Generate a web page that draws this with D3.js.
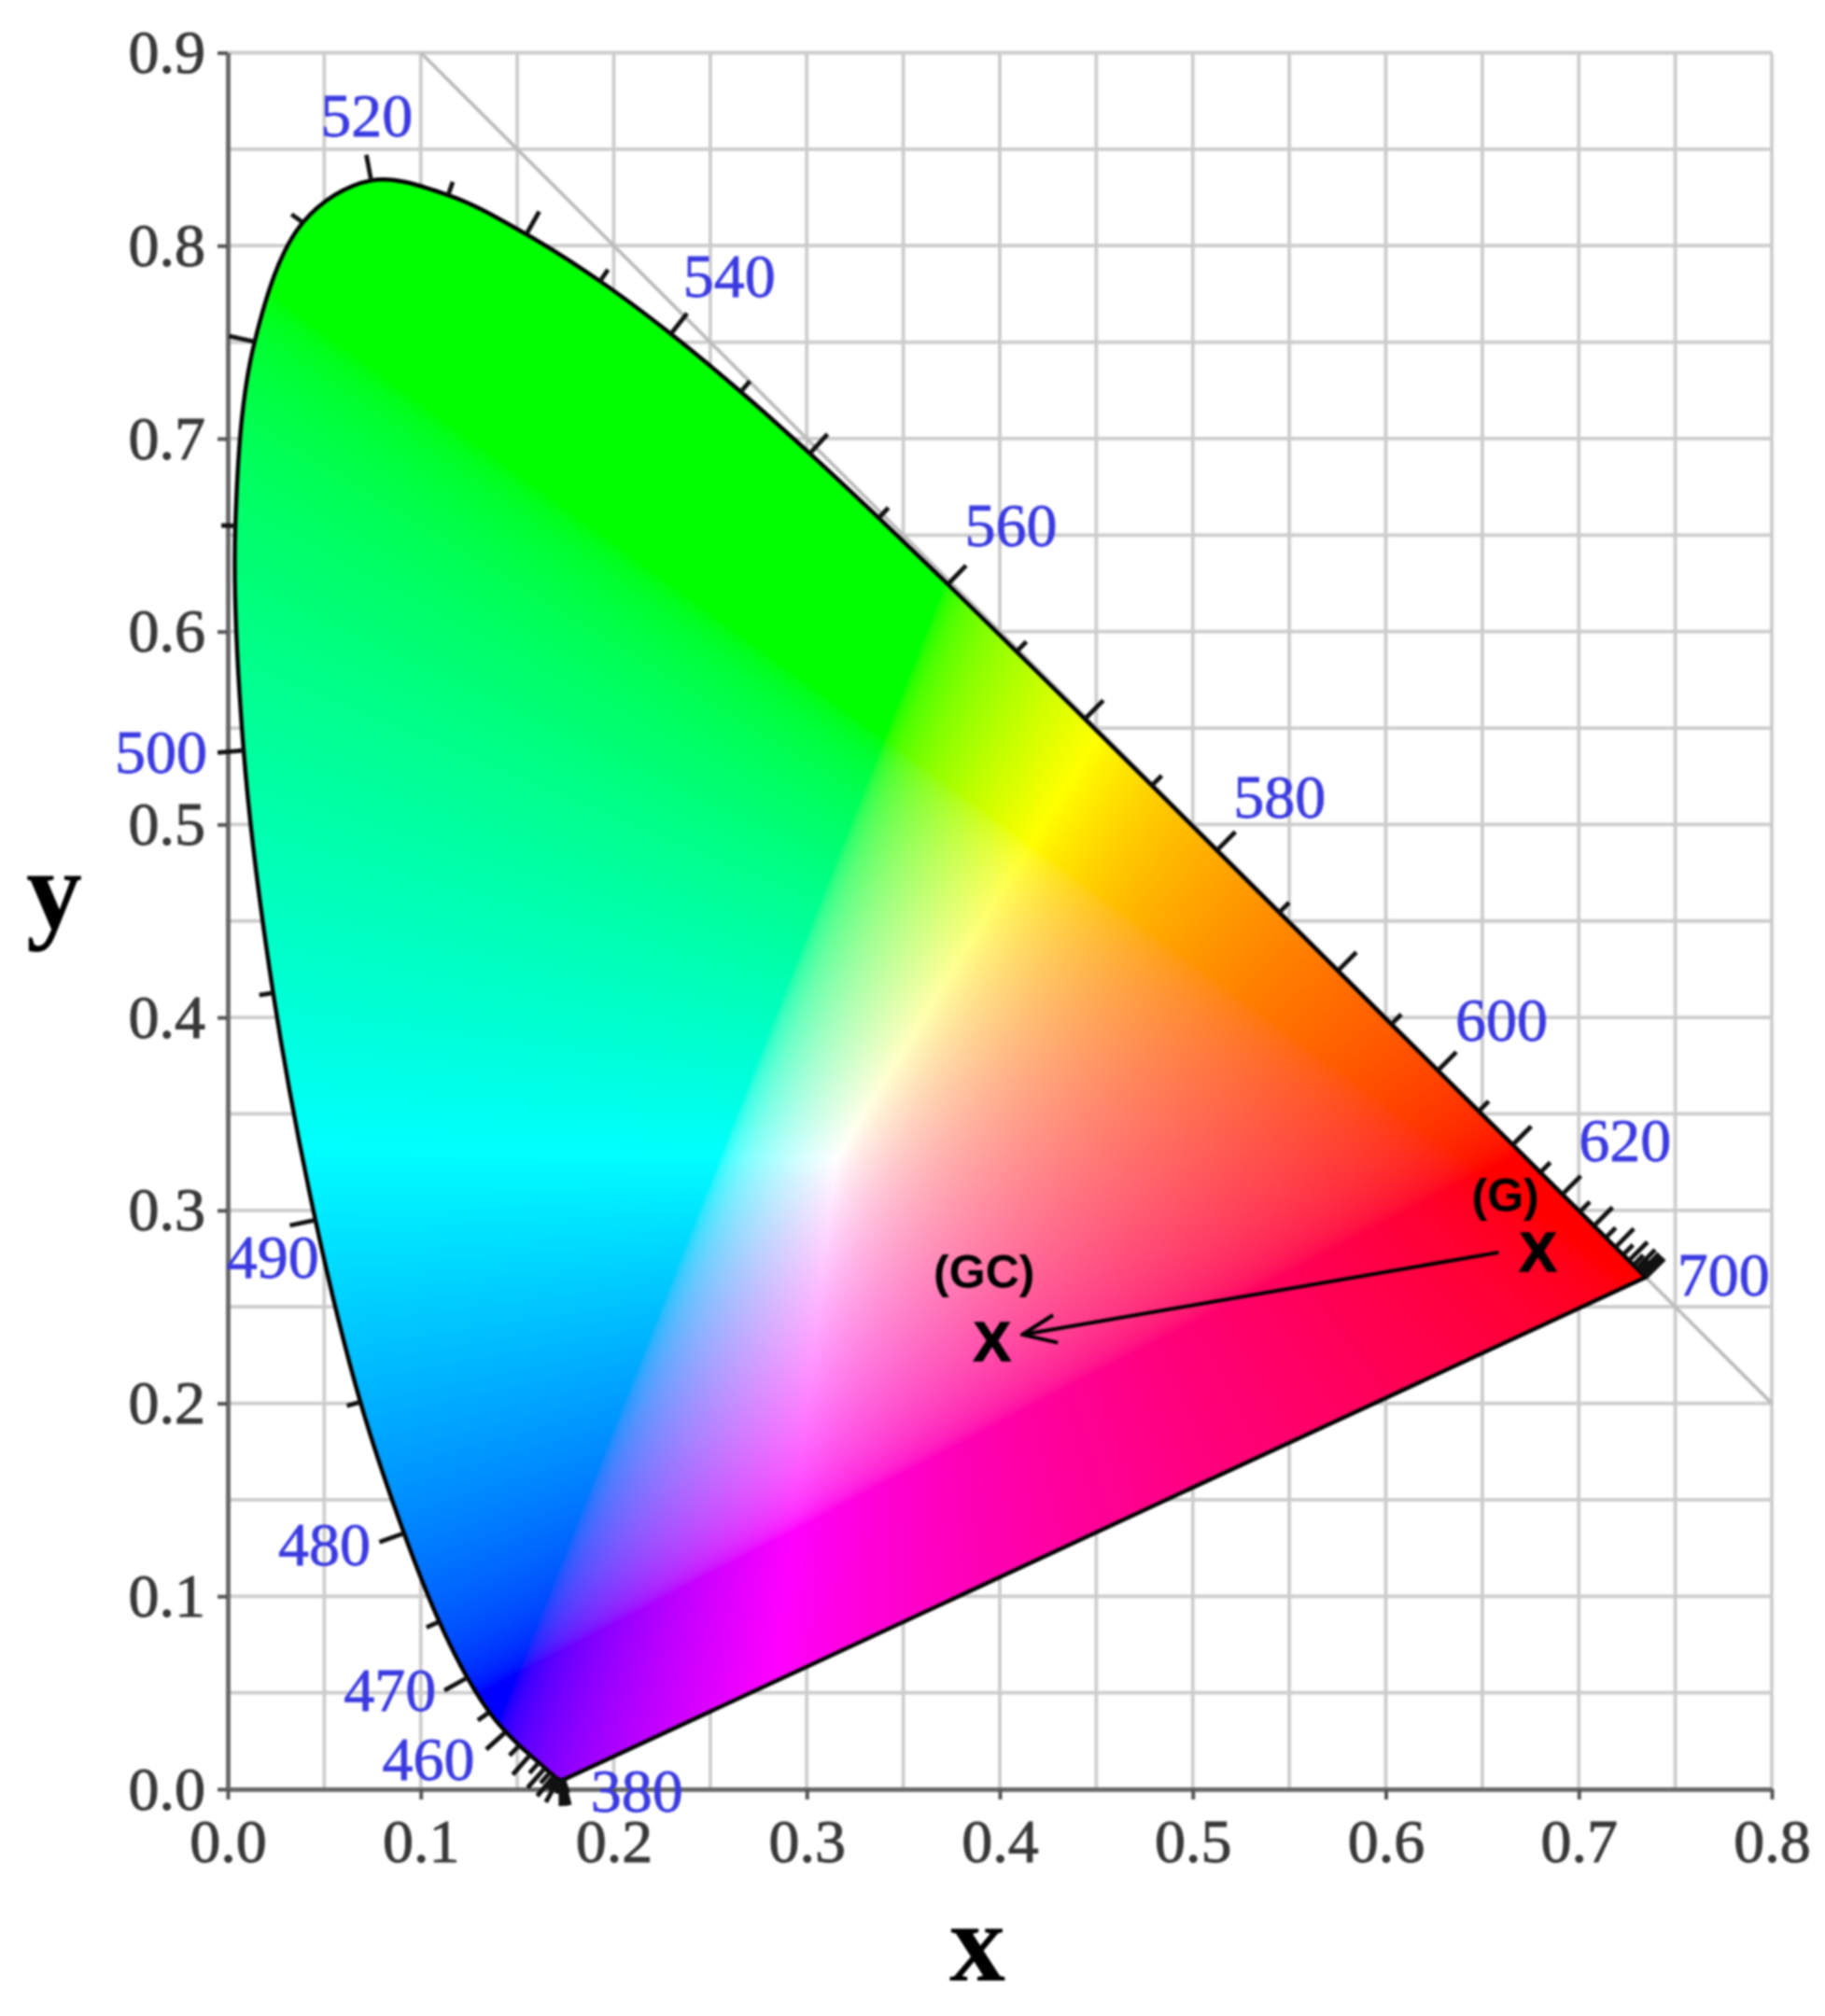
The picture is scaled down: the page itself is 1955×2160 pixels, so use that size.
<!DOCTYPE html>
<html><head><meta charset="utf-8">
<script src="https://cdn.jsdelivr.net/npm/d3@7"></script>
<style>html,body{margin:0;background:#fff}svg{display:block;filter:blur(1.2px)}</style>
</head><body><svg id="c" width="1955" height="2160"></svg>
<script>
const wavelengths=[380,385,390,395,400,405,410,415,420,425,430,435,440,445,450,455,460,465,470,475,480,485,490,495,500,505,510,515,520,525,530,535,540,545,550,555,560,565,570,575,580,585,590,595,600,605,610,615,620,625,630,635,640,645,650,655,660,665,670,675,680,685,690,695,700];
const locusX=[.1741,.1740,.1738,.1736,.1733,.1730,.1726,.1721,.1714,.1703,.1689,.1669,.1644,.1611,.1566,.1510,.1440,.1355,.1241,.1096,.0913,.0687,.0454,.0235,.0082,.0039,.0139,.0389,.0743,.1142,.1547,.1929,.2296,.2658,.3016,.3373,.3731,.4087,.4441,.4788,.5125,.5448,.5752,.6029,.6270,.6482,.6658,.6801,.6915,.7006,.7079,.7140,.7190,.7230,.7260,.7283,.7300,.7311,.7320,.7327,.7334,.7340,.7344,.7346,.7347];
const locusY=[.0050,.0050,.0049,.0049,.0048,.0048,.0048,.0048,.0051,.0058,.0069,.0086,.0109,.0138,.0177,.0227,.0297,.0399,.0578,.0868,.1327,.2007,.2950,.4127,.5384,.6548,.7502,.8120,.8338,.8262,.8059,.7816,.7543,.7243,.6923,.6589,.6245,.5896,.5547,.5202,.4866,.4544,.4242,.3965,.3725,.3514,.3340,.3197,.3083,.2993,.2920,.2859,.2809,.2770,.2740,.2717,.2700,.2689,.2680,.2673,.2666,.2660,.2656,.2654,.2653];
const labelNames=["520","540","560","580","600","620","700","500","490","480","470","460","380"];
const labelX=[.072,.2598,.4058,.545,.660,.724,.775,-.0346,.0233,.050,.084,.104,.212];
const labelY=[.867,.784,.6547,.514,.3985,.336,.2665,.5373,.2755,.1265,.0513,.0155,-.0013];
const xTicks=[0,.1,.2,.3,.4,.5,.6,.7,.8];
const yTicks=[0,.1,.2,.3,.4,.5,.6,.7,.8,.9];
const gridX=d3.range(0,17).map(i=>i/20);
const gridY=d3.range(0,19).map(i=>i/20);
const pointNames=["(G)","(GC)"];
const pointX=[.6788,.396];
const pointY=[.2787,.2327];
const pointLabelX=[.662,.3919];
const pointLabelY=[.3075,.268];
const arrowX=[.6585,.4117];
const arrowY=[.2782,.2356];
const primaries=[[.65,.32],[.34,.545],[.15,.06]];
const whitePoint=[.315,.327];

const x=d3.scaleLinear().domain([0,.8]).range([244,1898]);
const y=d3.scaleLinear().domain([0,.9]).range([1917,56.5]);
const svg=d3.select("#c");

function XYZ(p){return [p[0]/p[1],1,(1-p[0]-p[1])/p[1]];}
function inv3(m){const[a,b,c]=m[0],[d,e,f]=m[1],[g,h,i]=m[2];const A=e*i-f*h,B=f*g-d*i,C=d*h-e*g,det=a*A+b*B+c*C;
 return [[A/det,(c*h-b*i)/det,(b*f-c*e)/det],[B/det,(a*i-c*g)/det,(c*d-a*f)/det],[C/det,(b*g-a*h)/det,(a*e-b*d)/det]];}
const P=primaries.map(XYZ);
const PM=[[P[0][0],P[1][0],P[2][0]],[P[0][1],P[1][1],P[2][1]],[P[0][2],P[1][2],P[2][2]]];
const wxyz=XYZ(whitePoint);
const pi=inv3(PM);
const S=pi.map(r=>r[0]*wxyz[0]+r[1]*wxyz[1]+r[2]*wxyz[2]);
const inv=inv3(PM.map(r=>r.map((v,j)=>v*S[j])));
const gam=v=>v<=.0031308?12.92*v:1.055*Math.pow(v,1/2.4)-.055;

const x0=Math.floor(x(0)),x1=Math.ceil(x(.8)),y0=Math.floor(y(.9)),y1=Math.ceil(y(0));
const cv=document.createElement("canvas");cv.width=x1-x0;cv.height=y1-y0;
const ctx=cv.getContext("2d");const im=ctx.createImageData(cv.width,cv.height);
for(let j=0;j<cv.height;j++)for(let i=0;i<cv.width;i++){
 const cx=x.invert(x0+i),cy=Math.max(.001,y.invert(y0+j));
 const v=XYZ([cx,cy]);
 let c=inv.map(r=>Math.max(0,r[0]*v[0]+r[1]*v[1]+r[2]*v[2]));
 const m=Math.max(c[0],c[1],c[2])||1;
 const k=(j*cv.width+i)*4;
 im.data[k]=255*gam(c[0]/m);im.data[k+1]=255*gam(c[1]/m);im.data[k+2]=255*gam(c[2]/m);im.data[k+3]=255;
}
ctx.putImageData(im,0,0);

const locus=wavelengths.map((w,i)=>({w,x:locusX[i],y:locusY[i],i}));
const line=d3.line().x(d=>x(d.x)).y(d=>y(d.y)).curve(d3.curveCatmullRom.alpha(.5));
const gridColor="#cccccc";
svg.append("g").selectAll("line").data(gridX).join("line").attr("x1",d=>x(d)).attr("x2",d=>x(d)).attr("y1",y(0)).attr("y2",y(.9)).attr("stroke",gridColor).attr("stroke-width",3.8);
svg.append("g").selectAll("line").data(gridY).join("line").attr("y1",d=>y(d)).attr("y2",d=>y(d)).attr("x1",x(0)).attr("x2",x(.8)).attr("stroke",gridColor).attr("stroke-width",3.8);
svg.append("line").attr("x1",x(.1)).attr("y1",y(.9)).attr("x2",x(.8)).attr("y2",y(.2)).attr("stroke","#bcbcbc").attr("stroke-width",3.8);

function styleAxis(g){g.select(".domain").attr("stroke","#6a6a6a").attr("stroke-width",5);
 g.selectAll(".tick line").attr("stroke","#555").attr("stroke-width",4);
 g.selectAll(".tick text").attr("font-family","'Liberation Serif'").attr("font-size",66).attr("fill","#383838").attr("stroke","#383838").attr("stroke-width",1);}
svg.append("g").attr("transform",`translate(${x(0)},0)`).call(d3.axisLeft(y).tickValues(yTicks).tickFormat(d3.format(".1f")).tickSize(11).tickSizeOuter(0).tickPadding(13)).call(styleAxis);
svg.append("g").attr("transform",`translate(0,${y(0)})`).call(d3.axisBottom(x).tickValues(xTicks).tickFormat(d3.format(".1f")).tickSize(11).tickSizeOuter(0).tickPadding(20)).call(styleAxis);

const defs=svg.append("defs");
const closed=line(locus)+"Z";
defs.append("clipPath").attr("id","lc").append("path").attr("d",closed);
svg.append("image").attr("x",x0).attr("y",y0).attr("width",cv.width).attr("height",cv.height).attr("href",cv.toDataURL()).attr("clip-path","url(#lc)");
svg.append("path").attr("d",closed).attr("fill","none").attr("stroke","#000").attr("stroke-width",4.4).attr("stroke-linejoin","round");

svg.append("g").selectAll("line").data(locus).join("line").each(function(d){
 const a=locus[Math.max(0,d.i-1)],b=locus[Math.min(locus.length-1,d.i+1)];
 const tx=x(b.x)-x(a.x),ty=y(b.y)-y(a.y),n=Math.hypot(tx,ty)||1;
 const nx=ty/n,ny=-tx/n,L=d.w%10===0?28:15;
 d3.select(this).attr("x1",x(d.x)).attr("y1",y(d.y)).attr("x2",x(d.x)+nx*L).attr("y2",y(d.y)+ny*L);
}).attr("stroke","#111").attr("stroke-width",4.8);

svg.append("g").selectAll("text").data(labelNames).join("text").attr("x",(d,i)=>x(labelX[i])).attr("y",(d,i)=>y(labelY[i])).attr("dy",".33em").attr("text-anchor","middle").attr("font-family","'Liberation Serif'").attr("font-size",66).attr("fill","#3a3ae0").attr("stroke","#3a3ae0").attr("stroke-width",.8).text(d=>d);

svg.append("text").attr("x",58).attr("y",994).attr("text-anchor","middle").attr("font-family","'Liberation Serif'").attr("font-weight","bold").attr("font-size",120).attr("fill","#000").text("y");
svg.append("text").attr("x",1047).attr("y",2122).attr("text-anchor","middle").attr("font-family","'Liberation Serif'").attr("font-weight","bold").attr("font-size",120).attr("fill","#000").text("x");

defs.append("marker").attr("id","ah").attr("markerUnits","userSpaceOnUse").attr("markerWidth",50).attr("markerHeight",40).attr("refX",48).attr("refY",20).attr("orient","auto").attr("viewBox","0 0 50 40").append("path").attr("d","M12,5L48,20L12,35").attr("fill","none").attr("stroke","#000").attr("stroke-width",4);
svg.append("path").attr("d",d3.line().x(d=>x(d[0])).y(d=>y(d[1]))(d3.zip(arrowX,arrowY))).attr("stroke","#000").attr("stroke-width",4).attr("fill","none").attr("marker-end","url(#ah)");
svg.append("g").selectAll("text").data(pointX).join("text").attr("x",d=>x(d)).attr("y",(d,i)=>y(pointY[i])).attr("dy",".36em").attr("text-anchor","middle").attr("font-family","'Liberation Sans'").attr("font-weight","bold").attr("font-size",60).attr("fill","#000").attr("stroke","#000").attr("stroke-width",1.5).text("X");
svg.append("g").selectAll("text").data(pointNames).join("text").attr("x",(d,i)=>x(pointLabelX[i])).attr("y",(d,i)=>y(pointLabelY[i])).attr("dy",".34em").attr("text-anchor","middle").attr("font-family","'Liberation Sans'").attr("font-weight","bold").attr("font-size",50).attr("fill","#000").text(d=>d);
</script></body></html>
